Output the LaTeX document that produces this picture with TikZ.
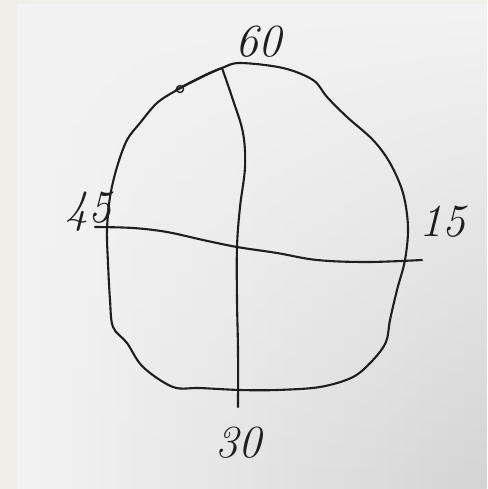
\documentclass[tikz,border=0pt]{standalone}
\usepackage{tikz}
\usetikzlibrary{positioning, fadings}
\definecolor{ink}{HTML}{1E1E1E}
\definecolor{wall}{HTML}{EFEEE7}
\definecolor{paper}{HTML}{F3F3F3}
\definecolor{paperdark}{HTML}{D4D4D4}

\begin{document}
\begin{tikzpicture}[
  x=1pt, y=-1pt,
  pen/.style={draw=ink, line width=2.1pt, line cap=round, line join=round},
  digits/.style={
    text=ink, inner sep=0pt,
    font=\fontsize{46}{46}\selectfont\itshape
  },
]
  \useasboundingbox (0,0) rectangle (487,489);
  % background: wall strip and the sheet
  \fill[wall] (0,0) rectangle (487,489);
  \fill[paper] (17,4) rectangle (487,489);
  \shade[left color=paper, right color=paperdark, path fading=north]
    (17,4) rectangle (487,489);

  % the round outline
  \draw[pen] plot[smooth cycle, tension=0.55] coordinates {
    (222,68) (240,63) (283,68) (313,80) (327,97) (347,117)
    (373,140) (390,163) (403,193) (408,227) (405,260) (397,290)
    (390,320) (386,342) (373,360) (353,377) (320,387) (277,390)
    (240,390) (200,388) (173,387) (143,367) (127,343) (113,327)
    (110,300) (108,263) (107,230) (110,197) (117,167) (127,140)
    (140,123) (157,103) (177,90) (200,78)
  };
  % doubled stroke and small loop at the top left
  \draw[pen] (176,90) .. controls (195,80) and (210,72) .. (222,68);
  \draw[pen, line width=1.4pt] (180,89) circle (3.5);

  \coordinate (top) at (222,68);
  \coordinate (bottom) at (238,407);
  \coordinate (left) at (95,227);
  \coordinate (right) at (422,260);

  % vertical and horizontal strokes
  \draw[pen] plot[smooth, tension=0.6] coordinates {
    (top) (233,100) (243,133) (245,167) (240,207) (237,247)
    (237,300) (238,350) (bottom)
  };
  \draw[pen] plot[smooth, tension=0.6] coordinates {
    (left) (133,228) (167,232) (203,240) (237,247) (277,253)
    (317,260) (367,262) (right)
  };

  % labels
  \node[digits] (sixty) at (258,42) {60};
  \node[digits] (fortyfive) at (88,212) {45};
  \node[digits] (fifteen) at (442,222) {15};
  \node[digits] (thirty) at (238,443) {30};
\end{tikzpicture}
\end{document}
